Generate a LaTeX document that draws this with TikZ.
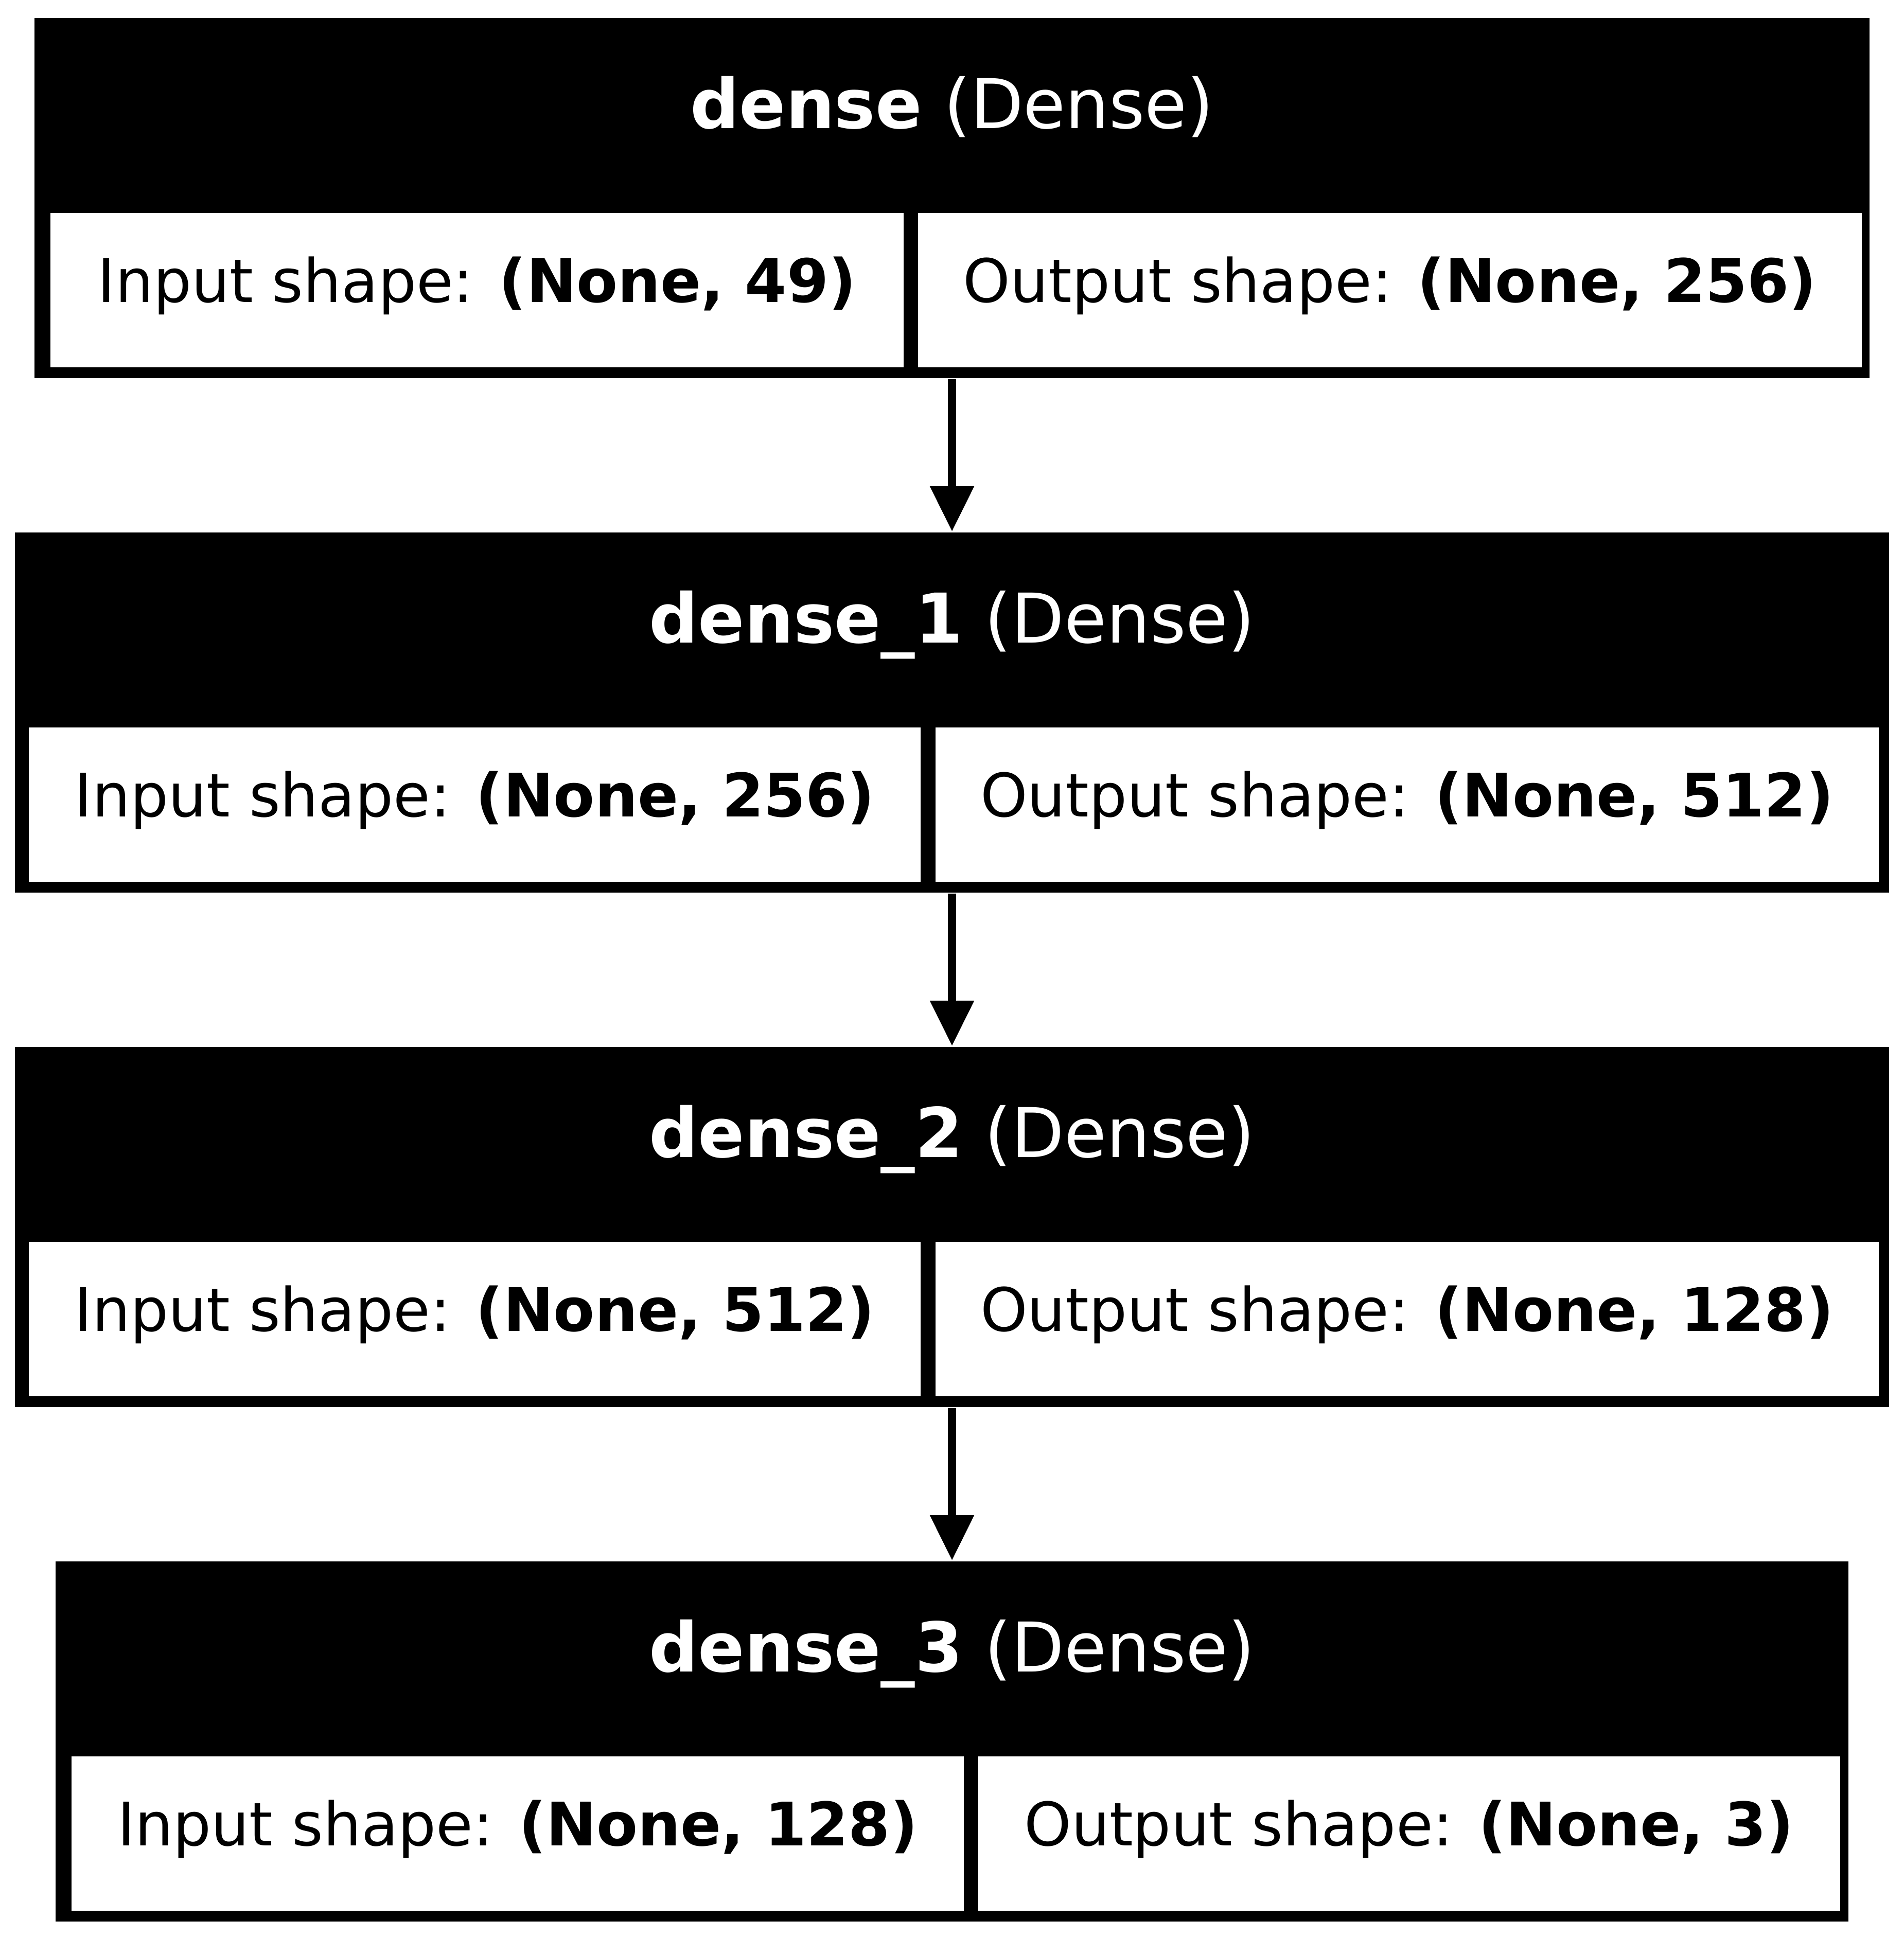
\documentclass[tikz,border=0pt]{standalone}
\usepackage{fontspec}
\setmainfont{DejaVu Sans}
\usetikzlibrary{arrows.meta, positioning}

\begin{document}
\begin{tikzpicture}[x=1pt, y=-1pt,
  layer/.style={rectangle, fill=black, text=white, inner sep=0pt, anchor=north,
    font=\fontsize{16}{19}\selectfont, text height=25.7pt, text depth=58.3pt},
  cell/.style={rectangle, fill=white, inner sep=0pt, anchor=north west,
    font=\fontsize{14}{17}\selectfont, text height=20.8pt, text depth=15.2pt},
  flow/.style={line width=2pt, -{Triangle[length=10.6pt, width=9.8pt]}}]
\useasboundingbox (0,0) rectangle (444,452.04);

\node[layer, minimum width=428pt] (dense) at (222,4) {\textbf{dense} (Dense)};
\node[cell, minimum width=199pt] (dense-in) at (11.5,49.5) {Input shape: \textbf{(None, 49)}};
\node[cell, minimum width=220pt, right=3pt of dense-in] (dense-out) {Output shape: \textbf{(None, 256)}};

\node[layer, minimum width=437pt] (dense1) at (222,124) {\textbf{dense\_1} (Dense)};
\node[cell, minimum width=208pt] (dense1-in) at (6.5,169.5) {Input shape: \textbf{(None, 256)}};
\node[cell, minimum width=220pt, right=3pt of dense1-in] (dense1-out) {Output shape: \textbf{(None, 512)}};

\node[layer, minimum width=437pt] (dense2) at (222,244) {\textbf{dense\_2} (Dense)};
\node[cell, minimum width=208pt] (dense2-in) at (6.5,289.5) {Input shape: \textbf{(None, 512)}};
\node[cell, minimum width=220pt, right=3pt of dense2-in] (dense2-out) {Output shape: \textbf{(None, 128)}};

\node[layer, minimum width=418pt] (dense3) at (222,364) {\textbf{dense\_3} (Dense)};
\node[cell, minimum width=208pt] (dense3-in) at (16.5,409.5) {Input shape: \textbf{(None, 128)}};
\node[cell, minimum width=201pt, right=3pt of dense3-in] (dense3-out) {Output shape: \textbf{(None, 3)}};

\draw[flow] (dense.south) -- (dense1.north);
\draw[flow] (dense1.south) -- (dense2.north);
\draw[flow] (dense2.south) -- (dense3.north);
\end{tikzpicture}
\end{document}
